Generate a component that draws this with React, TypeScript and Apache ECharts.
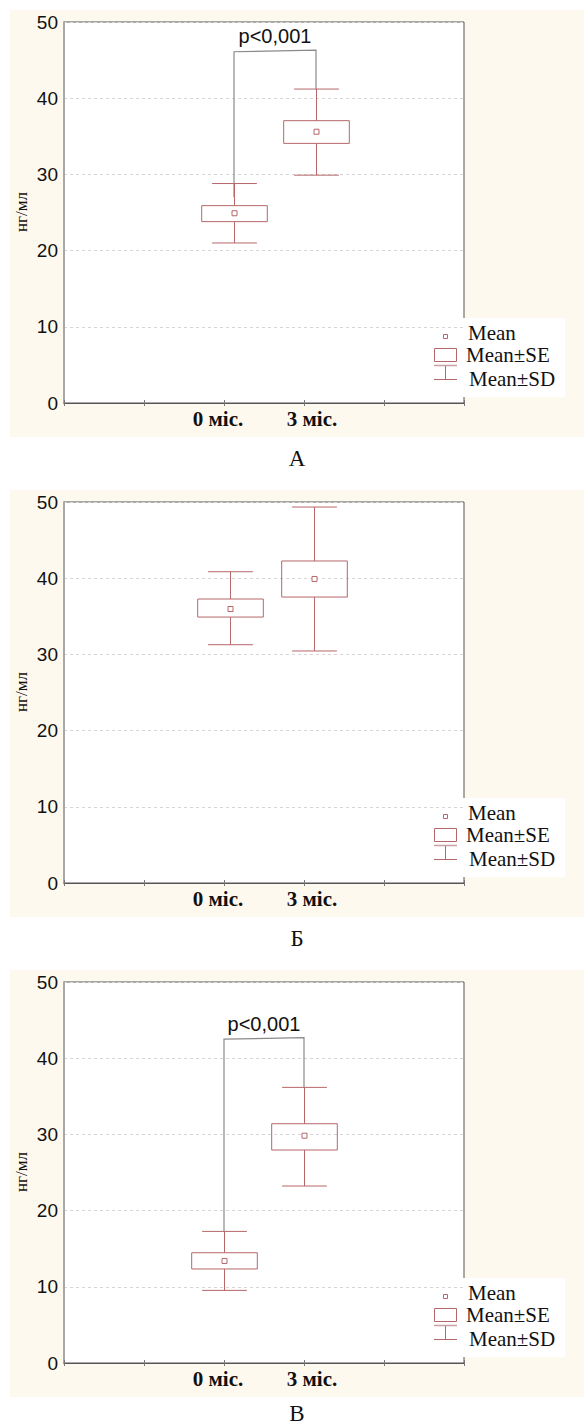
import React, { useEffect, useRef } from "react";
import * as echarts from "echarts";

// ---- data ----
const categories = ["0 міс.", "3 міс."];
const categoryTicks = [2, 3];
const panelLetters = ["А", "Б", "В"];
const yTicks = [0, 10, 20, 30, 40, 50];
const legendLabels = ["Mean", "Mean±SE", "Mean±SD"];
const yAxisName = "нг/мл";
const sigLabel = "p<0,001";

// panel A
const posA = [2.125, 3.15];
const meanA = [24.9, 35.6];
const seLowA = [23.8, 34.07];
const seHighA = [25.9, 37.05];
const sdLowA = [21.0, 29.9];
const sdHighA = [28.8, 41.2];
// bracket: [leftBottom, leftTop, rightTop, rightBottom]
const bracketA = [27.0, 46.1, 46.3, 41.2];

// panel Б
const posB = [2.08, 3.125];
const meanB = [35.96, 39.9];
const seLowB = [34.9, 37.53];
const seHighB = [37.27, 42.26];
const sdLowB = [31.27, 30.45];
const sdHighB = [40.85, 49.34];
const bracketB: number[] | null = null;

// panel В
const posC = [2.0, 3.0];
const meanC = [13.39, 29.83];
const seLowC = [12.34, 27.95];
const seHighC = [14.47, 31.4];
const sdLowC = [9.53, 23.23];
const sdHighC = [17.27, 36.17];
const bracketC = [17.27, 42.5, 42.7, 36.17];

const panels = [
  { pos: posA, mean: meanA, lo: seLowA, hi: seHighA, sdl: sdLowA, sdh: sdHighA, br: bracketA },
  { pos: posB, mean: meanB, lo: seLowB, hi: seHighB, sdl: sdLowB, sdh: sdHighB, br: bracketB },
  { pos: posC, mean: meanC, lo: seLowC, hi: seHighC, sdl: sdLowC, sdh: sdHighC, br: bracketC },
];

const BOX = "#b5676a";
const CREAM = "#fef9ee";
const SERIF = "'Liberation Serif', 'Times New Roman', serif";
const SANS = "'Liberation Sans', Arial, sans-serif";

export default function App() {
  const ref = useRef<HTMLDivElement>(null);
  useEffect(() => {
    if (!ref.current) return;
    const chart = echarts.init(ref.current, null, { renderer: "svg" });
    const offsets = [0, 480, 960];
    const captionY = [458, 938, 1413];
    const grids: any[] = [];
    const xAxes: any[] = [];
    const yAxes: any[] = [];
    const series: any[] = [];
    const graphics: any[] = [];

    offsets.forEach((off, i) => {
      graphics.push({
        type: "rect",
        z: -10,
        silent: true,
        shape: { x: 10, y: 10 + off, width: 574, height: 427 },
        style: { fill: CREAM },
      });
      grids.push({
        left: 64,
        top: 22 + off,
        width: 400,
        height: 381,
        show: true,
        backgroundColor: "#fff",
        borderColor: "#555",
        borderWidth: 1,
      });
      xAxes.push({
        type: "value",
        gridIndex: i,
        min: 0,
        max: 5,
        interval: 1,
        position: "bottom",
        axisLine: { show: true, onZero: false, lineStyle: { color: "#555", width: 1 } },
        axisTick: { show: true, inside: true, length: 3, lineStyle: { color: "#777" } },
        splitLine: { show: false },
        axisLabel: {
          margin: 5,
          formatter: (v: number) => {
            const k = categoryTicks.indexOf(v);
            if (k < 0) return "";
            return `{${k === 0 ? "a" : "b"}|${categories[k]}}`;
          },
          rich: {
            a: { fontFamily: SERIF, fontWeight: "bold", fontSize: 21, color: "#111", padding: [0, 12, 0, 0] },
            b: { fontFamily: SERIF, fontWeight: "bold", fontSize: 21, color: "#111", padding: [0, 0, 0, 16] },
          },
        },
      });
      xAxes.push({
        type: "value",
        gridIndex: i,
        min: 0,
        max: 5,
        interval: 1,
        position: "top",
        axisLine: { show: false },
        axisTick: { show: true, inside: true, length: 3, lineStyle: { color: "#777" } },
        splitLine: { show: false },
        axisLabel: { show: false },
      });
      yAxes.push({
        type: "value",
        gridIndex: i,
        min: yTicks[0],
        max: yTicks[yTicks.length - 1],
        interval: 10,
        axisLine: { show: true, onZero: false, lineStyle: { color: "#a8a8a8", width: 2 } },
        axisTick: { show: false },
        splitLine: { show: true, lineStyle: { type: [3, 3], color: "#d6d6d6", width: 1 } },
        axisLabel: { fontFamily: SANS, fontSize: 19, color: "#111", margin: 6 },
      });

      const p = panels[i];
      const boxData = p.pos.map((x, k) => [x, p.mean[k], p.lo[k], p.hi[k], p.sdl[k], p.sdh[k]]);
      series.push({
        type: "custom",
        xAxisIndex: i * 2,
        yAxisIndex: i,
        data: boxData,
        encode: { x: 0, y: [1, 2, 3, 4, 5] },
        renderItem: (params: any, api: any) => {
          const x = api.value(0);
          const c = api.coord([x, api.value(1)]);
          const seLo = api.coord([x, api.value(2)]);
          const seHi = api.coord([x, api.value(3)]);
          const sdLo = api.coord([x, api.value(4)]);
          const sdHi = api.coord([x, api.value(5)]);
          const bw = api.size([0.82, 0])[0];
          const cw = api.size([0.56, 0])[0];
          const cx = Math.round(c[0]) + 0.5;
          const st = { stroke: BOX, lineWidth: 1, fill: null };
          return {
            type: "group",
            children: [
              { type: "line", shape: { x1: cx, y1: sdHi[1], x2: cx, y2: seHi[1] }, style: st },
              { type: "line", shape: { x1: cx, y1: seLo[1], x2: cx, y2: sdLo[1] }, style: st },
              { type: "line", shape: { x1: cx - cw / 2, y1: sdHi[1], x2: cx + cw / 2, y2: sdHi[1] }, style: st },
              { type: "line", shape: { x1: cx - cw / 2, y1: sdLo[1], x2: cx + cw / 2, y2: sdLo[1] }, style: st },
              {
                type: "rect",
                shape: { x: cx - bw / 2, y: seHi[1], width: bw, height: seLo[1] - seHi[1] },
                style: { stroke: BOX, lineWidth: 1, fill: "none" },
              },
              {
                type: "rect",
                shape: { x: cx - 2.5, y: c[1] - 2.5, width: 5, height: 5 },
                style: { stroke: BOX, lineWidth: 1, fill: "#fff" },
              },
            ],
          };
        },
      });

      if (p.br) {
        const br = p.br;
        series.push({
          type: "custom",
          xAxisIndex: i * 2,
          yAxisIndex: i,
          data: [[p.pos[0], br[0], br[1], p.pos[1], br[2], br[3]]],
          encode: { x: [0, 3], y: [1, 2, 4, 5] },
          z: 1,
          renderItem: (params: any, api: any) => {
            const lb = api.coord([api.value(0), api.value(1)]);
            const lt = api.coord([api.value(0), api.value(2)]);
            const rt = api.coord([api.value(3), api.value(4)]);
            const rb = api.coord([api.value(3), api.value(5)]);
            return {
              type: "group",
              children: [
                {
                  type: "polyline",
                  shape: { points: [lb, lt, rt, rb] },
                  style: { stroke: "#8a8a8a", lineWidth: 1.2, fill: "none" },
                },
                {
                  type: "text",
                  style: {
                    x: (lt[0] + rt[0]) / 2,
                    y: Math.min(lt[1], rt[1]) - 4,
                    text: sigLabel,
                    fontFamily: SANS,
                    fontSize: 20,
                    fill: "#111",
                    align: "center",
                    verticalAlign: "bottom",
                  },
                },
              ],
            };
          },
        });
      }

      // y axis name
      graphics.push({
        type: "text",
        x: 21,
        y: 212 + off,
        rotation: Math.PI / 2,
        style: {
          text: yAxisName,
          fontFamily: SERIF,
          fontSize: 17,
          fill: "#111",
          align: "center",
          verticalAlign: "middle",
        },
      });

      // legend
      const ly = off;
      graphics.push({
        type: "group",
        children: [
          { type: "rect", shape: { x: 463, y: 318 + ly, width: 102, height: 79 }, style: { fill: "#fff" } },
          { type: "rect", shape: { x: 443.5, y: 334.5 + ly, width: 4, height: 4 }, style: { stroke: BOX, fill: "#fff", lineWidth: 1 } },
          { type: "rect", shape: { x: 434.5, y: 348.5 + ly, width: 22, height: 13 }, style: { stroke: BOX, fill: "none", lineWidth: 1 } },
          { type: "line", shape: { x1: 434, y1: 365.5 + ly, x2: 457, y2: 365.5 + ly }, style: { stroke: "#c8a0a0", lineWidth: 1.5 } },
          { type: "line", shape: { x1: 445.5, y1: 366 + ly, x2: 445.5, y2: 379 + ly }, style: { stroke: BOX, lineWidth: 1 } },
          { type: "line", shape: { x1: 434, y1: 379.5 + ly, x2: 457, y2: 379.5 + ly }, style: { stroke: BOX, lineWidth: 1 } },
          { type: "text", x: 468, y: 333 + ly, style: { text: legendLabels[0], fontFamily: SERIF, fontSize: 21, fill: "#111", verticalAlign: "middle" } },
          { type: "text", x: 466, y: 355 + ly, style: { text: legendLabels[1], fontFamily: SERIF, fontSize: 21, fill: "#111", verticalAlign: "middle" } },
          { type: "text", x: 469, y: 379 + ly, style: { text: legendLabels[2], fontFamily: SERIF, fontSize: 21, fill: "#111", verticalAlign: "middle" } },
        ],
      });

      graphics.push({
        type: "text",
        x: 297,
        y: captionY[i],
        style: {
          text: panelLetters[i],
          fontFamily: SERIF,
          fontSize: 23,
          fill: "#111",
          align: "center",
          verticalAlign: "middle",
        },
      });
    });

    chart.setOption({
      animation: false,
      backgroundColor: "#fff",
      grid: grids,
      xAxis: xAxes,
      yAxis: yAxes,
      series,
      graphic: graphics,
    });
    return () => chart.dispose();
  }, []);

  return (
    <div
      ref={ref}
      style={{ position: "absolute", left: 0, top: 0, width: 584, height: 1426 }}
    />
  );
}
